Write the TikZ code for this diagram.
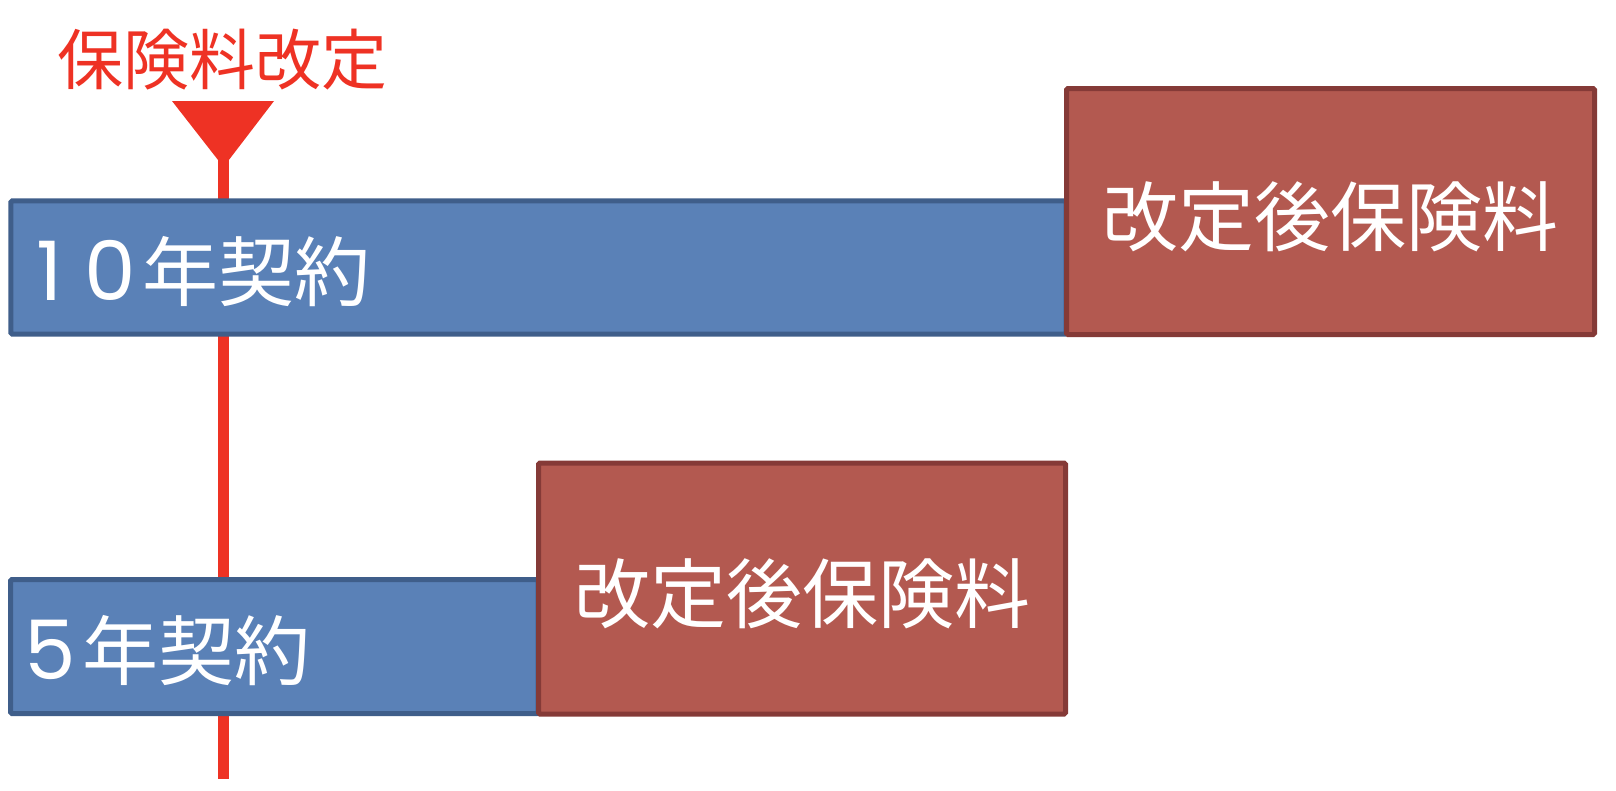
\documentclass[tikz,border=0pt]{standalone}
\usepackage{fontspec}
\newfontfamily\jp{Noto Sans CJK JP}
\newfontfamily\digitfont{Poppins}
\usetikzlibrary{calc}
\definecolor{bfill}{RGB}{90,129,183}
\definecolor{bline}{RGB}{63,94,138}
\definecolor{rfill}{RGB}{179,89,80}
\definecolor{rline}{RGB}{133,58,55}
\definecolor{alertred}{RGB}{238,50,36}
\newcommand{\dg}{\digitfont\fontsize{82}{82}\selectfont}
\begin{document}
\begin{tikzpicture}[x=1pt,y=-1pt,
  bluebox/.style={draw=bline, fill=bfill, line width=5pt, rounded corners=1.5pt, anchor=north west, inner sep=0pt, outer sep=0pt},
  redbox/.style={draw=rline, fill=rfill, line width=5pt, rounded corners=1.5pt, anchor=north west, inner sep=0pt, outer sep=0pt},
  boxlbl/.style={text=white, font=\jp\fontsize{76}{76}\selectfont, inner sep=0pt},
  titlelbl/.style={text=alertred, font=\jp\fontsize{66}{66}\selectfont, inner sep=0pt},
  timeline/.style={draw=alertred, line width=11pt}]
\useasboundingbox (0,0) rectangle (1616,790);
% timeline
\coordinate (ltop) at (223.5,101);
\coordinate (lbot) at (223.5,779);
\draw[timeline] (ltop) -- (lbot);
% boxes
\node[bluebox, minimum width=1055.2pt, minimum height=133.4pt] (b10) at (10.8,200.8) {};
\node[redbox, minimum width=528pt, minimum height=246pt] (r10) at (1066.5,88.5) {};
\node[bluebox, minimum width=527.5pt, minimum height=134pt] (b5) at (10.5,579.5) {};
\node[redbox, minimum width=527pt, minimum height=251pt] (r5) at (538.5,463) {};
% labels
\node[boxlbl, anchor=west] (t10) at ($(b10.west)+(25,4)$) {{\dg 1\kern22pt 0}\kern7pt 年契約};
\node[boxlbl, anchor=west] (t5) at ($(b5.west)+(14,4)$) {{\dg 5}\kern6pt 年契約};
\node[boxlbl] (tr10) at ($(r10.center)+(0,5)$) {改定後保険料};
\node[boxlbl] (tr5) at ($(r5.center)+(0,5)$) {改定後保険料};
% marker
\coordinate (tl) at (172,101);
\coordinate (tr) at (274,101);
\coordinate (tapex) at (223.5,167);
\fill[alertred] (tl) -- (tr) -- (tapex) -- cycle;
\node[titlelbl] (title) at (222,60) {保険料改定};
\end{tikzpicture}
\end{document}
